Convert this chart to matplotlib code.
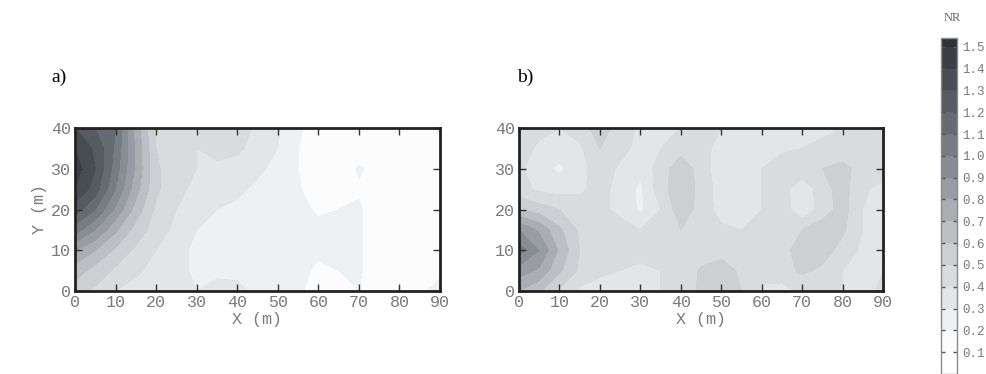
import numpy as np
import matplotlib.pyplot as plt
from matplotlib.colors import ListedColormap, BoundaryNorm
from matplotlib.colorbar import ColorbarBase

# grid positions (m)
x_m = np.arange(0, 91, 5)
y_m = np.arange(0, 41, 5)

# NR values read off panel a), rows y = 0..40, cols x = 0..90
nr_a = [
    [0.55, 0.48, 0.40, 0.36, 0.32, 0.32, 0.30, 0.33, 0.33, 0.27, 0.25, 0.22, 0.15, 0.18, 0.20, 0.15, 0.13, 0.18, 0.23],
    [0.65, 0.56, 0.48, 0.42, 0.36, 0.33, 0.28, 0.28, 0.27, 0.25, 0.24, 0.23, 0.18, 0.20, 0.21, 0.15, 0.13, 0.14, 0.18],
    [0.80, 0.70, 0.58, 0.48, 0.40, 0.34, 0.27, 0.25, 0.24, 0.23, 0.23, 0.23, 0.22, 0.22, 0.21, 0.15, 0.13, 0.13, 0.14],
    [1.05, 0.90, 0.72, 0.56, 0.45, 0.37, 0.30, 0.26, 0.25, 0.24, 0.23, 0.22, 0.22, 0.22, 0.21, 0.15, 0.13, 0.13, 0.14],
    [1.25, 1.10, 0.88, 0.66, 0.48, 0.40, 0.35, 0.30, 0.28, 0.26, 0.24, 0.22, 0.19, 0.20, 0.21, 0.15, 0.13, 0.13, 0.14],
    [1.40, 1.25, 1.00, 0.74, 0.52, 0.42, 0.38, 0.35, 0.32, 0.28, 0.25, 0.21, 0.15, 0.16, 0.19, 0.16, 0.13, 0.13, 0.14],
    [1.45, 1.30, 1.05, 0.78, 0.52, 0.42, 0.40, 0.38, 0.36, 0.32, 0.27, 0.20, 0.15, 0.14, 0.21, 0.17, 0.13, 0.13, 0.14],
    [1.40, 1.28, 1.08, 0.78, 0.50, 0.42, 0.40, 0.43, 0.42, 0.36, 0.30, 0.20, 0.14, 0.14, 0.15, 0.15, 0.13, 0.13, 0.16],
    [1.30, 1.20, 1.10, 0.76, 0.48, 0.42, 0.40, 0.46, 0.45, 0.38, 0.31, 0.22, 0.14, 0.14, 0.13, 0.13, 0.13, 0.14, 0.22],
]

# NR values read off panel b)
nr_b = [
    [0.70, 0.62, 0.48, 0.38, 0.36, 0.36, 0.37, 0.40, 0.44, 0.52, 0.56, 0.50, 0.38, 0.36, 0.42, 0.45, 0.40, 0.36, 0.42],
    [0.85, 0.78, 0.62, 0.48, 0.42, 0.40, 0.38, 0.40, 0.44, 0.51, 0.55, 0.48, 0.44, 0.46, 0.52, 0.48, 0.40, 0.36, 0.40],
    [1.05, 0.90, 0.68, 0.50, 0.45, 0.44, 0.43, 0.44, 0.45, 0.46, 0.46, 0.45, 0.44, 0.47, 0.54, 0.55, 0.46, 0.38, 0.40],
    [0.90, 0.78, 0.62, 0.48, 0.44, 0.43, 0.40, 0.44, 0.50, 0.45, 0.42, 0.40, 0.42, 0.45, 0.50, 0.55, 0.52, 0.40, 0.35],
    [0.60, 0.55, 0.50, 0.45, 0.42, 0.38, 0.28, 0.40, 0.56, 0.46, 0.36, 0.35, 0.40, 0.46, 0.32, 0.45, 0.54, 0.40, 0.30],
    [0.44, 0.38, 0.36, 0.38, 0.44, 0.36, 0.28, 0.46, 0.57, 0.47, 0.35, 0.34, 0.40, 0.45, 0.32, 0.46, 0.54, 0.42, 0.36],
    [0.42, 0.34, 0.28, 0.36, 0.46, 0.38, 0.32, 0.45, 0.56, 0.46, 0.33, 0.35, 0.40, 0.46, 0.48, 0.50, 0.53, 0.46, 0.45],
    [0.45, 0.38, 0.35, 0.38, 0.50, 0.44, 0.36, 0.40, 0.46, 0.42, 0.38, 0.36, 0.37, 0.38, 0.40, 0.42, 0.44, 0.46, 0.47],
    [0.47, 0.43, 0.40, 0.45, 0.55, 0.46, 0.38, 0.38, 0.40, 0.42, 0.40, 0.36, 0.36, 0.37, 0.38, 0.38, 0.40, 0.44, 0.47],
]

levels = np.arange(0, 1.61, 0.1)
cbar_ticks = [0.1, 0.2, 0.3, 0.4, 0.5, 0.6, 0.7, 0.8, 0.9, 1.0, 1.1, 1.2, 1.3, 1.4, 1.5]

# one grey per 0.1 band
band_colors = ["#ffffff", "#fcfcfd", "#eef1f4", "#e3e6e9", "#d9dcdf", "#cdd0d3",
               "#bcc0c4", "#aaaeb3", "#999da3", "#888c93", "#777c83", "#666b72",
               "#565a61", "#484c53", "#3b3f45", "#2f3339"]
cmap = ListedColormap(band_colors)
norm = BoundaryNorm(levels, cmap.N)

mono = "Liberation Mono"
grey = "#7a7a7a"

fig = plt.figure(figsize=(9.87, 3.74), dpi=100)


def draw_panel(rect, data, letter, letter_x, ylabel):
    ax = fig.add_axes(rect)
    ax.contourf(x_m, y_m, np.array(data), levels=levels, cmap=cmap, norm=norm)
    ax.set_xlim(0, 90)
    ax.set_ylim(0, 40)
    ax.set_xticks(range(0, 91, 10))
    ax.set_yticks(range(0, 41, 10))
    ax.tick_params(direction="in", top=True, right=True, length=5, width=1,
                   color="#333333", labelcolor=grey, labelsize=12, pad=3)
    for lab in ax.get_xticklabels() + ax.get_yticklabels():
        lab.set_fontfamily(mono)
    for s in ax.spines.values():
        s.set_linewidth(2)
        s.set_color("#222222")
    ax.set_xlabel("X (m)", family=mono, color=grey, fontsize=12, labelpad=1)
    if ylabel:
        ax.set_ylabel("Y (m)", family=mono, color=grey, fontsize=12, labelpad=3)
    fig.text(letter_x, 1 - 77 / 374, letter, family="Liberation Serif",
             fontsize=14, ha="left", va="center")
    return ax


draw_panel([75 / 987, 1 - 291 / 374, 365 / 987, 163 / 374], nr_a, "a)", 51 / 987, True)
draw_panel([519 / 987, 1 - 291 / 374, 364 / 987, 163 / 374], nr_b, "b)", 517 / 987, False)

# colour bar
cax = fig.add_axes([941 / 987, 0.0, 16 / 987, 336 / 374])
cb = ColorbarBase(cax, cmap=cmap, norm=norm, boundaries=levels, ticks=cbar_ticks,
                  orientation="vertical")
cax.set_ylim(0, 1.54)
cb.outline.set_edgecolor("#8a8a8a")
cb.outline.set_linewidth(1)
cax.tick_params(direction="in", left=True, right=True, length=3, width=1,
                color="#555555", labelcolor=grey, labelsize=9, pad=4)
cax.set_yticklabels([f"{t:.1f}" for t in cbar_ticks], family=mono)
fig.text(952 / 987, 1 - 18 / 374, "NR", family="Liberation Serif",
         fontsize=9, color="#666666", ha="center", va="center")

fig.savefig("out.png", dpi=100)
